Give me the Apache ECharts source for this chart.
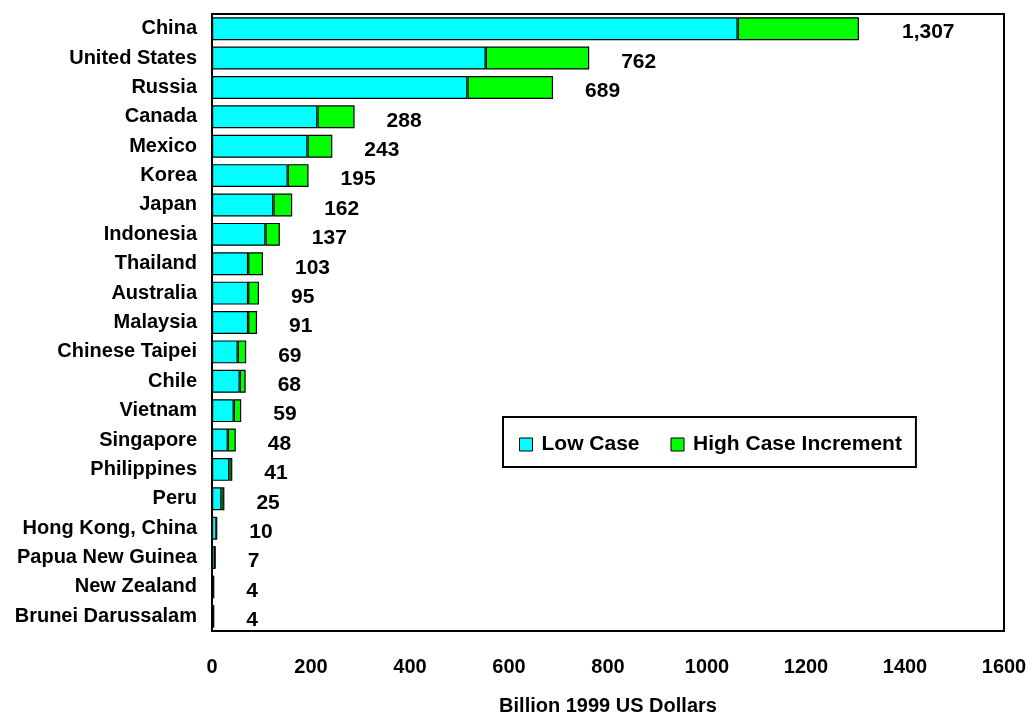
<!DOCTYPE html>
<html>
<head>
<meta charset="utf-8">
<script src="https://cdn.jsdelivr.net/npm/echarts@6/dist/echarts.min.js"></script>
<style>html,body{margin:0;padding:0;background:#fff;}#c{width:1031px;height:715px;}</style>
</head>
<body>
<div id="c"></div>
<script>
var categories = ["China","United States","Russia","Canada","Mexico","Korea","Japan","Indonesia","Thailand","Australia","Malaysia","Chinese Taipei","Chile","Vietnam","Singapore","Philippines","Peru","Hong Kong, China","Papua New Guinea","New Zealand","Brunei Darussalam"];
var lowCase = [1062,553,516,213,193,153,124,108,73,73,73,52,56,44,32,35,19,9,6,3,3];
var highIncrement = [245,209,173,75,50,42,38,29,30,22,18,17,12,15,16,6,6,1,1,1,1];
var totals = [1307,762,689,288,243,195,162,137,103,95,91,69,68,59,48,41,25,10,7,4,4];
var xTicks = [0,200,400,600,800,1000,1200,1400,1600];

var FONT = "'Liberation Sans', Arial, sans-serif";
var chart = echarts.init(document.getElementById('c'), null, {renderer:'canvas'});

var incData = highIncrement.map(function(v, i){
  var d = {value: v};
  if (i === 0) d.label = {distance: 43};
  return d;
});

chart.setOption({
  animation: false,
  backgroundColor: '#fff',
  textStyle: {fontFamily: FONT},
  grid: {left: 212, right: 27, top: 14, bottom: 84, containLabel: false, outerBoundsMode: 'none',
    show: true, borderColor: '#000', borderWidth: 2, backgroundColor: 'transparent'},
  legend: {
    left: 503, top: 417,
    orient: 'horizontal',
    backgroundColor: '#fff',
    borderColor: '#000', borderWidth: 2,
    padding: [17, 14, 12, 16],
    itemGap: 31, itemWidth: 13, itemHeight: 13,
    icon: 'rect',
    itemStyle: {borderColor: '#000', borderWidth: 1},
    textStyle: {fontFamily: FONT, fontWeight: 'bold', fontSize: 21, color: '#000', padding: [0,0,0,4]},
    data: ['Low Case', 'High Case Increment']
  },
  xAxis: {
    type: 'value', min: xTicks[0], max: xTicks[xTicks.length-1], interval: 200,
    axisLine: {show: false}, axisTick: {show: false}, splitLine: {show: false},
    axisLabel: {fontFamily: FONT, fontWeight: 'bold', fontSize: 20, color: '#000', margin: 26,
      formatter: function(v){ return String(v); }},
    name: 'Billion 1999 US Dollars', nameLocation: 'middle', nameGap: 65,
    nameTextStyle: {fontFamily: FONT, fontWeight: 'bold', fontSize: 20, color: '#000'}
  },
  yAxis: {
    type: 'category', data: categories, inverse: true,
    axisLine: {show: false}, axisTick: {show: false}, splitLine: {show: false},
    axisLabel: {fontFamily: FONT, fontWeight: 'bold', fontSize: 20, color: '#000', margin: 15, interval: 0}
  },
  series: [
    {
      name: 'Low Case', type: 'bar', stack: 'total', data: lowCase,
      barCategoryGap: '22%',
      itemStyle: {color: '#00FFFF', borderColor: '#000', borderWidth: 1.2}
    },
    {
      name: 'High Case Increment', type: 'bar', stack: 'total', data: incData,
      barCategoryGap: '22%',
      itemStyle: {color: '#00FF00', borderColor: '#000', borderWidth: 1.2},
      label: {
        show: true, position: 'right', distance: 32, offset: [0, 4],
        fontFamily: FONT, fontWeight: 'bold', fontSize: 21, color: '#000',
        formatter: function(p){ return totals[p.dataIndex].toLocaleString('en-US'); }
      }
    }
  ]
});
</script>
</body>
</html>
